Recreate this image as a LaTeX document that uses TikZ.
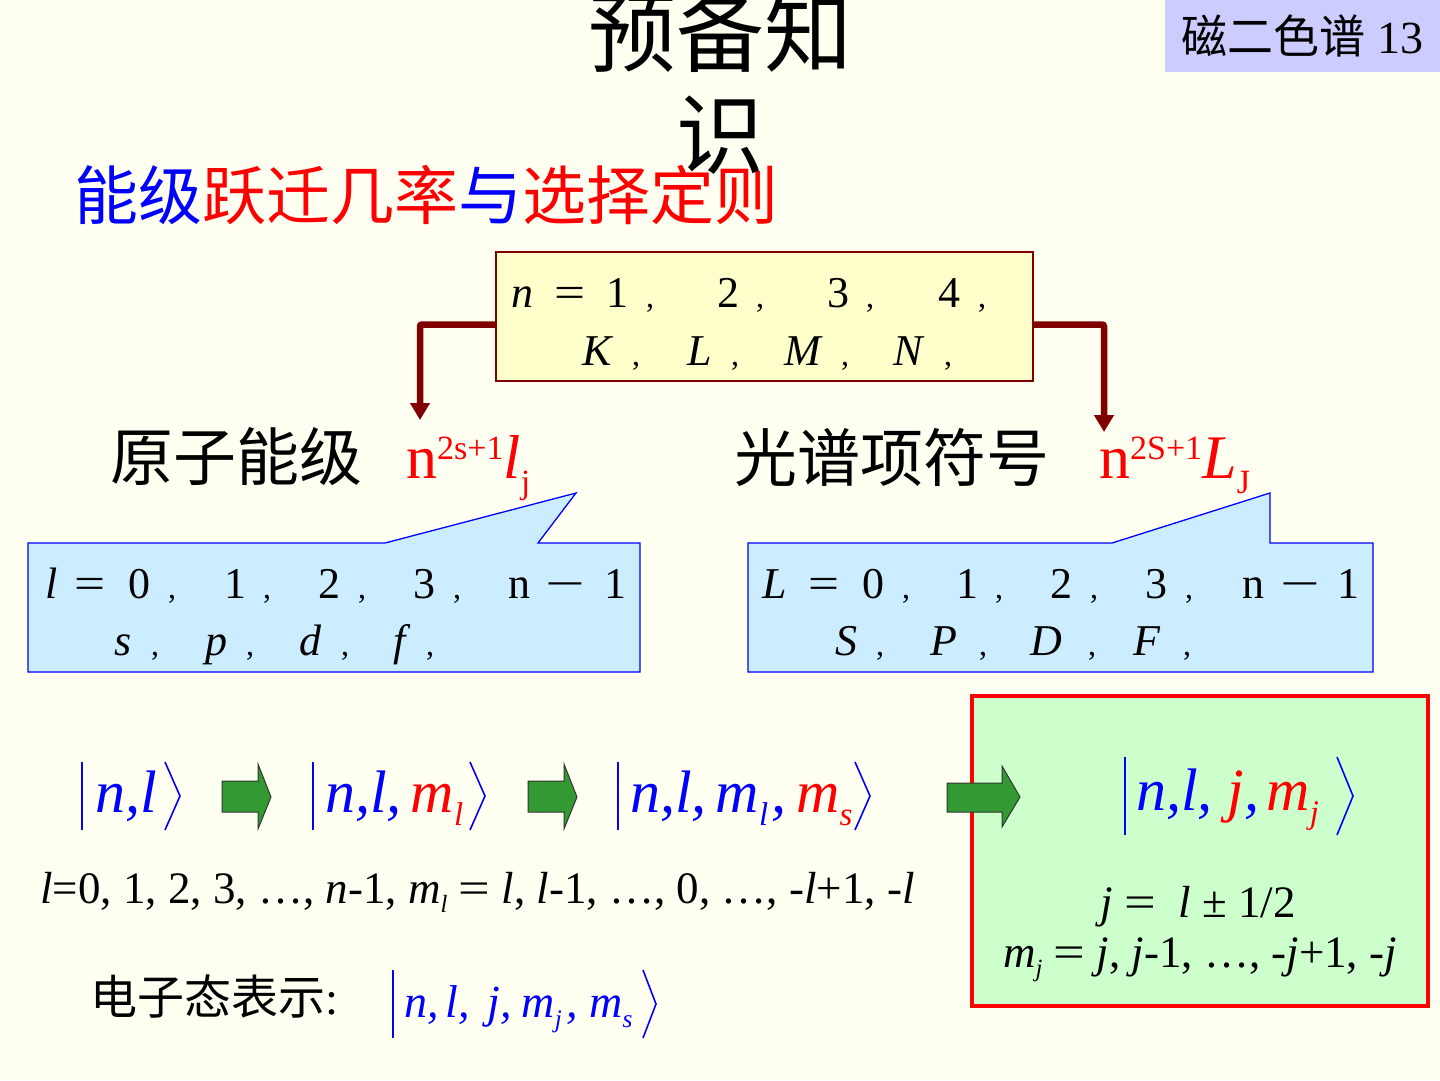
\documentclass[tikz,border=0pt]{standalone}
\usepackage{fontspec}
\usepackage{graphicx}
\setmainfont{Liberation Serif}
\newfontfamily\cjk{Noto Sans CJK SC}
\usetikzlibrary{arrows.meta}
\definecolor{bgc}{HTML}{FFFFF2}
\definecolor{lav}{HTML}{CCCCFF}
\definecolor{yel}{HTML}{FFFFCC}
\definecolor{dred}{HTML}{800000}
\definecolor{lblue}{HTML}{CCECFF}
\definecolor{lgreen}{HTML}{CCFFCC}
\definecolor{agreen}{HTML}{339933}
\newcommand\fsz[1]{\fontsize{#1}{#1}\selectfont}
\newcommand\lowsub[2][0.55]{\raisebox{-0.22em}{\scalebox{#1}{#2}}}
\newcommand\wideeq{\scalebox{1.25}[1]{=}}
\newcommand\longminus{\scalebox{1.6}[1]{−}}
\newcommand\cm{{\fsz{32},}}
\tikzset{
  tok/.style={anchor=base, inner sep=0pt, font=\fsz{44}},
  elb/.style={draw=dred, line width=6.5pt, rounded corners=2pt, -{Triangle[width=19pt,length=17pt]}},
  callout/.style={draw=blue, fill=lblue, line width=1.3pt},
  garrow/.style={draw=black!80, fill=agreen, line width=1pt},
  ketline/.style={draw=blue, line width=1.6pt},
  ket/.style={anchor=base west, inner sep=0pt, text=blue, font=\fsz{60}\itshape},
}
\begin{document}
\begin{tikzpicture}[x=1pt,y=-1pt]
\fill[bgc] (0,0) rectangle (1440,1080);
\useasboundingbox (0,0) rectangle (1440,1080);

% tag top right
\node[fill=lav, minimum width=275pt, minimum height=72pt, inner sep=0pt, font=\fsz{46}] (tag) at (1302.5,36) {{\cjk 磁二色谱} 13};

% subtitle
\node[anchor=west, inner sep=0pt, font=\cjk\fsz{64}] (sub) at (74,195) {\textcolor{blue}{能级}\textcolor{red}{跃迁几率}\textcolor{blue}{与}\textcolor{red}{选择定则}};

% title
\node[inner sep=0pt, font=\cjk\fsz{88}] (t1) at (720,32) {预备知};
\node[inner sep=0pt, font=\cjk\fsz{88}] (t2) at (720,135) {识};

% yellow box
\node[draw=dred, fill=yel, line width=1.5pt, minimum width=537pt, minimum height=129pt, inner sep=0pt] (ybox) at (764.5,316.5) {};
\foreach \x/\t [count=\i] in {522/\textit{n},570/\wideeq,617/1,650/\cm,728/2,760/\cm,838/3,870/\cm,949/4,982/\cm}
  \node[tok] (ya\i) at (\x,307) {\t};
\foreach \x/\t [count=\i] in {598/\textit{K},636/\cm,700/\textit{L},735/\cm,804/\textit{M},845/\cm,909/\textit{N},948/\cm}
  \node[tok] (yb\i) at (\x,365) {\t};

% elbow arrows
\coordinate (lend) at (420,420);
\coordinate (rend) at (1104,432);
\draw[elb] ([yshift=-8pt]ybox.west) -| (lend);
\draw[elb] ([yshift=-8pt]ybox.east) -| (rend);

% labels
\node[anchor=west, inner sep=0pt, font=\cjk\fsz{63}] (lab1) at (110,457) {原子能级};
\node[anchor=base west, inner sep=0pt, text=red, font=\fsz{62}] (sym1) at (406,478) {n\raisebox{0.3em}{\fsz{34}2s+1}\textit{l}\raisebox{-0.25em}{\fsz{34}j}};
\node[anchor=west, inner sep=0pt, font=\cjk\fsz{63}] (lab2) at (734,457) {光谱项符号};
\node[anchor=base west, inner sep=0pt, text=red, font=\fsz{62}] (sym2) at (1099,478) {n\raisebox{0.3em}{\fsz{34}2S+1}\textit{L}\raisebox{-0.25em}{\fsz{34}J}};

% callouts
\filldraw[callout] (28,543) -- (385,543) -- (576,493) -- (538,543) -- (640,543) -- (640,672) -- (28,672) -- cycle;
\filldraw[callout] (748,543) -- (1112,543) -- (1270,493) -- (1270,543) -- (1373,543) -- (1373,672) -- (748,672) -- cycle;

\foreach \x/\t [count=\i] in {52/\textit{l},90/\wideeq,139/0,172/\cm,235/1,267/\cm,329/2,362/\cm,424/3,457/\cm,519/n,565/\longminus,615/1}
  \node[tok] (la\i) at (\x,598) {\t};
\foreach \x/\t [count=\i] in {123/\textit{s},155/\cm,216/\textit{p},250/\cm,311/\textit{d},345/\cm,402/\textit{f},430/\cm}
  \node[tok] (lb\i) at (\x,655) {\t};
\foreach \x/\t [count=\i] in {775/\textit{L},824/\wideeq,873/0,906/\cm,967/1,999/\cm,1061/2,1094/\cm,1156/3,1189/\cm,1253/n,1300/\longminus,1348/1}
  \node[tok] (ra\i) at (\x,598) {\t};
\foreach \x/\t [count=\i] in {846/\textit{S},880/\cm,944/\textit{P},983/\cm,1046/\textit{D},1092/\cm,1147/\textit{F},1187/\cm}
  \node[tok] (rb\i) at (\x,655) {\t};

% green box
\node[draw=red, fill=lgreen, line width=3.5pt, minimum width=456pt, minimum height=310pt, inner sep=0pt] (gbox) at (1200,851) {};

% block arrows
\draw[garrow, shift={(222,0)}] (0,781) -- (36,781) -- (36,764) -- (49,797) -- (36,829) -- (36,812) -- (0,812) -- cycle;
\draw[garrow, shift={(528,0)}] (0,781) -- (36,781) -- (36,764) -- (49,797) -- (36,829) -- (36,812) -- (0,812) -- cycle;
\draw[garrow] (947,783) -- (1002,783) -- (1002,766) -- (1020,797) -- (1002,827) -- (1002,812) -- (947,812) -- cycle;

% kets row
\node[ket] (k1) at (95,812) {n,l};
\draw[ketline] (82,762) -- (82,830);
\draw[ketline] (165,762) -- (180,796) -- (165,830);

\node[ket] (k2) at (325,812) {n,l,\hspace{9pt}\textcolor{red}{m\lowsub{l}}};
\draw[ketline] (313,762) -- (313,830);
\draw[ketline] (470,762) -- (485,796) -- (470,830);

\node[ket] (k3) at (630,812) {n,l,\hspace{9pt}m\lowsub{l}\hspace{3pt},\hspace{10pt}\textcolor{red}{m\lowsub{s}}};
\draw[ketline] (618,762) -- (618,830);
\draw[ketline] (855,762) -- (870,796) -- (855,830);

\node[ket] (k4) at (1136,810) {n,l, \textcolor{red}{j},\hspace{7pt}\textcolor{red}{m\lowsub{j}}};
\draw[ketline] (1125,757) -- (1125,835);
\draw[ketline] (1337,757) -- (1353,796) -- (1337,835);

% l line
\node[anchor=base west, inner sep=0pt, font=\fsz{45}] (lline) at (40,903) {\textit{l}=0, 1, 2, 3, …, \textit{n}-1, \textit{m}\lowsub{\textit{l}} \wideeq{} \textit{l}, \textit{l}-1, …, 0, …, -\textit{l}+1, -\textit{l}};

% green box text
\node[anchor=base, inner sep=0pt, font=\fsz{45}] (jline) at (1198,917) {\textit{j} \wideeq{} ~\textit{l} ± 1/2};
\node[anchor=base, inner sep=0pt, font=\fsz{45}] (mjline) at (1200,967) {\textit{m}\lowsub{\textit{j}} \wideeq{} \textit{j}, \textit{j}-1, …, -\textit{j}+1, -\textit{j}};

% bottom
\node[anchor=west, inner sep=0pt, font=\fsz{47}] (elab) at (90,997) {{\cjk 电子态表示}:};
\node[ket, font=\fsz{46}\itshape] (k5) at (404,1017) {n,\hspace{7pt}l, \hspace{6pt}j,\hspace{10pt}m\lowsub{j}\hspace{4pt},\hspace{12pt}m\lowsub{s}};
\draw[ketline] (393,970) -- (393,1038);
\draw[ketline] (643,970) -- (656,1004) -- (643,1038);
\end{tikzpicture}
\end{document}
